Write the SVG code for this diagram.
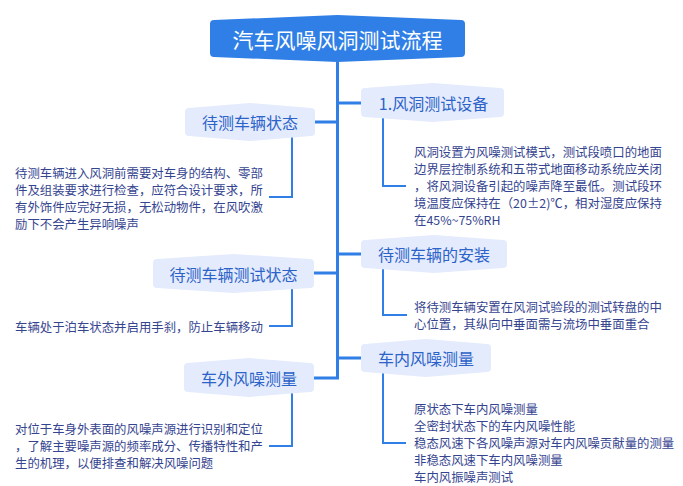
<svg xmlns="http://www.w3.org/2000/svg" width="683" height="486" viewBox="0 0 683 486">
<style>
.bg{fill:#ffffff}
.trunk{fill:none;stroke:#2f7fe6;stroke-width:3}
.elbow{fill:none;stroke:#2f7fe6;stroke-width:2}
.root{fill:#2f7fe6}
.sub{fill:#e4ebfd}
.rt{font-family:"Noto Sans CJK SC","Noto Sans",sans-serif;font-size:21px;fill:#ffffff;text-anchor:middle;dominant-baseline:central}
.st{font-family:"Noto Sans CJK SC","Noto Sans",sans-serif;font-size:16px;fill:#2c63c8;text-anchor:middle;dominant-baseline:central}
.bt{font-family:"Noto Sans CJK SC","Noto Sans",sans-serif;font-size:12.4px;fill:#35448f;dominant-baseline:central}
</style>
<rect class="bg" x="0" y="0" width="683" height="486"/>
<g id="connectors">
<path class="trunk" d="M337.5,62 V378 M337.5,103 H362 M337.5,122 H314 M337.5,254 H362 M337.5,273 H313 M337.5,358 H362 M339,378 H313"/>
<path class="elbow" d="M383,117 V186 H406"/>
<path class="elbow" d="M292,136 V197 H269"/>
<path class="elbow" d="M383,268 V315 H407"/>
<path class="elbow" d="M292,288 V326 H269"/>
<path class="elbow" d="M383,372 V443 H406"/>
<path class="elbow" d="M292,392 V446 H269"/>
</g>
<g id="root">
<path class="root" d="M214,20 L337.5,15 L461,20 Q465,20 465,24 L465,53 Q465,57 461,57 L337.5,62 L214,57 Q210,57 210,53 L210,24 Q210,20 214,20 Z"/>
<text class="rt" x="337.5" y="39">汽车风噪风洞测试流程</text>
</g>
<g id="n1">
<path class="sub" d="M365,88 L432.5,83 L500,88 Q504,88 504,92 L504,113 Q504,117 500,117 L432.5,122 L365,117 Q361,117 361,113 L361,92 Q361,88 365,88 Z"/>
<text class="st" x="433.5" y="102.5">1.风洞测试设备</text>
</g>
<g id="n1-text">
<text class="bt" x="414" y="152">风洞设置为风噪测试模式，测试段喷口的地面</text>
<text class="bt" x="414" y="169">边界层控制系统和五带式地面移动系统应关闭</text>
<text class="bt" x="414" y="186">，将风洞设备引起的噪声降至最低。测试段环</text>
<text class="bt" x="414" y="203">境温度应保持在（20±2)℃，相对湿度应保持</text>
<text class="bt" x="414" y="220">在45%~75%RH</text>
</g>
<g id="n2">
<path class="sub" d="M189,108 L250,103 L311,108 Q315,108 315,112 L315,132 Q315,136 311,136 L250,141 L189,136 Q185,136 185,132 L185,112 Q185,108 189,108 Z"/>
<text class="st" x="250" y="122">待测车辆状态</text>
</g>
<g id="n2-text">
<text class="bt" x="15" y="172.5">待测车辆进入风洞前需要对车身的结构、零部</text>
<text class="bt" x="15" y="189.5">件及组装要求进行检查，应符合设计要求，所</text>
<text class="bt" x="15" y="206.5">有外饰件应完好无损，无松动物件，在风吹激</text>
<text class="bt" x="15" y="223.5">励下不会产生异响噪声</text>
</g>
<g id="n3">
<path class="sub" d="M365,240 L434,235 L503,240 Q507,240 507,244 L507,264 Q507,268 503,268 L434,273 L365,268 Q361,268 361,264 L361,244 Q361,240 365,240 Z"/>
<text class="st" x="434" y="254">待测车辆的安装</text>
</g>
<g id="n3-text">
<text class="bt" x="414" y="306.5">将待测车辆安置在风洞试验段的测试转盘的中</text>
<text class="bt" x="414" y="323.5">心位置，其纵向中垂面需与流场中垂面重合</text>
</g>
<g id="n4">
<path class="sub" d="M157,259 L233.5,254 L310,259 Q314,259 314,263 L314,284 Q314,288 310,288 L233.5,293 L157,288 Q153,288 153,284 L153,263 Q153,259 157,259 Z"/>
<text class="st" x="233.5" y="273.5">待测车辆测试状态</text>
</g>
<g id="n4-text">
<text class="bt" x="15" y="327">车辆处于泊车状态并启用手刹，防止车辆移动</text>
</g>
<g id="n5">
<path class="sub" d="M365,344 L426,339 L487,344 Q491,344 491,348 L491,368 Q491,372 487,372 L426,377 L365,372 Q361,372 361,368 L361,348 Q361,344 365,344 Z"/>
<text class="st" x="426" y="358">车内风噪测量</text>
</g>
<g id="n5-text">
<text class="bt" x="414" y="409">原状态下车内风噪测量</text>
<text class="bt" x="414" y="426">全密封状态下的车内风噪性能</text>
<text class="bt" x="414" y="443">稳态风速下各风噪声源对车内风噪贡献量的测量</text>
<text class="bt" x="414" y="460">非稳态风速下车内风噪测量</text>
<text class="bt" x="414" y="477">车内风振噪声测试</text>
</g>
<g id="n6">
<path class="sub" d="M188,363 L249,358 L310,363 Q314,363 314,367 L314,388 Q314,392 310,392 L249,397 L188,392 Q184,392 184,388 L184,367 Q184,363 188,363 Z"/>
<text class="st" x="249" y="377.5">车外风噪测量</text>
</g>
<g id="n6-text">
<text class="bt" x="15" y="429">对位于车身外表面的风噪声源进行识别和定位</text>
<text class="bt" x="15" y="446">，了解主要噪声源的频率成分、传播特性和产</text>
<text class="bt" x="15" y="463">生的机理，以便排查和解决风噪问题</text>
</g>
</svg>
